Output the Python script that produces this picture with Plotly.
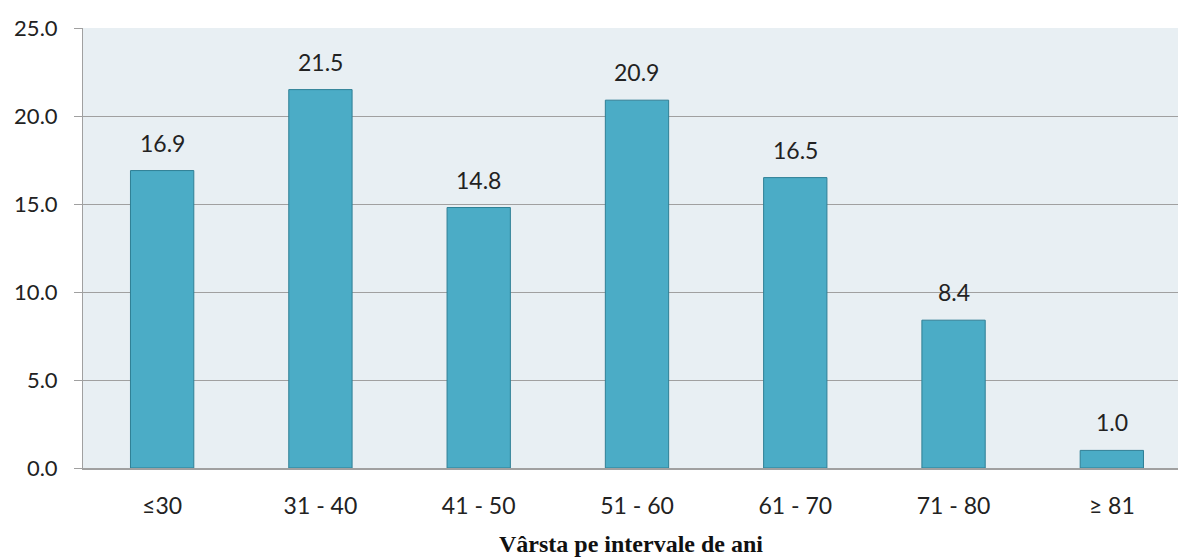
import plotly.graph_objects as go

categories = ["≤30", "31 - 40", "41 - 50", "51 - 60", "61 - 70", "71 - 80", "≥ 81"]
values = [16.9, 21.5, 14.8, 20.9, 16.5, 8.4, 1.0]
y_ticks = [0, 5, 10, 15, 20, 25]
x_title = "Vârsta pe intervale de ani"

PLOT_TOP, PLOT_BOTTOM = 28, 468
plot_h = PLOT_BOTTOM - PLOT_TOP

fig = go.Figure(
    go.Bar(
        x=categories,
        y=values,
        marker=dict(color="#4bacc6", line=dict(color="#2f7f95", width=1)),
        cliponaxis=False,
        hoverinfo="x+y",
    )
)

# value labels above each bar
label_annotations = [
    dict(
        x=c,
        y=v,
        xref="x",
        yref="y",
        text=f"{v:.1f}",
        showarrow=False,
        yanchor="bottom",
        yshift=12,
        font=dict(family="Lato, Open Sans, sans-serif", size=23, color="#222222"),
    )
    for c, v in zip(categories, values)
]

title_annotation = dict(
    text=f"<b>{x_title}</b>",
    x=0.5,
    xref="paper",
    y=-(558 - PLOT_BOTTOM) / plot_h,
    yref="paper",
    yanchor="bottom",
    yshift=-1,
    showarrow=False,
    font=dict(family="Liberation Serif, Times New Roman, serif", size=24, color="#111111"),
)

fig.update_layout(
    width=1178,
    height=558,
    margin=dict(l=83, r=0, t=PLOT_TOP, b=558 - PLOT_BOTTOM),
    plot_bgcolor="#e8eff3",
    paper_bgcolor="white",
    bargap=0.6,
    showlegend=False,
    font=dict(family="Lato, Open Sans, sans-serif", size=22, color="#222222"),
    xaxis=dict(
        range=[-0.5, 6.418],
        showline=True,
        linecolor="#a0a0a0",
        linewidth=1.5,
        ticks="",
        ticklabelstandoff=17,
        tickfont=dict(size=23),
    ),
    yaxis=dict(
        range=[0, 25],
        tickvals=y_ticks,
        ticktext=[f"{t:.1f}" for t in y_ticks],
        showgrid=True,
        gridcolor="#a0a0a0",
        gridwidth=1,
        showline=True,
        linecolor="#a0a0a0",
        linewidth=1,
        ticks="outside",
        ticklen=8,
        tickcolor="#a0a0a0",
        ticklabelstandoff=12,
        zeroline=False,
        tickfont=dict(size=22),
    ),
    annotations=label_annotations + [title_annotation],
)

fig.write_html("out.html")
